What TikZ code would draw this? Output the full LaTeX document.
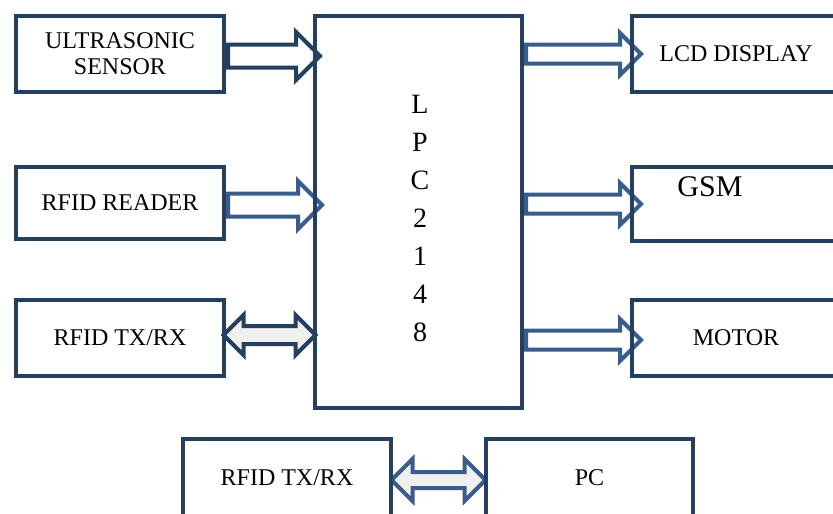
\documentclass[tikz,border=0pt]{standalone}
\usepackage{fontspec}
\setmainfont{Liberation Serif}
\usetikzlibrary{shapes.arrows,positioning,calc,backgrounds}
\definecolor{boxnavy}{HTML}{243F60}
\definecolor{arrblue}{HTML}{385D8A}
\definecolor{arrfill}{HTML}{F0F0F0}
\tikzset{
blkbox/.style={rectangle,draw=boxnavy,line width=4pt,align=center,inner sep=0pt,minimum width=208pt,minimum height=76pt,font=\fontsize{24}{26}\selectfont},
blkarr/.style={single arrow,draw=arrblue,line width=4pt,fill=white,inner sep=0pt,text height=15pt,text depth=0pt,single arrow head extend=11.5pt},
blkarrdark/.style={blkarr,draw=boxnavy},
dblarr/.style={double arrow,draw=arrblue,line width=4pt,fill=arrfill,inner sep=0pt,text height=13pt,text depth=0pt,double arrow head extend=12pt},
dblarrdark/.style={dblarr,draw=boxnavy}
}
\begin{document}
\begin{tikzpicture}[x=1pt,y=-1pt]
\useasboundingbox (0,0) rectangle (833,514);
\clip (0,0) rectangle (833,514);
% input side
\node[blkbox] (sensor) at (120,54) {ULTRASONIC\\SENSOR};
\node[blkbox,minimum height=72pt] (reader) at (120,203) {RFID READER};
\node[blkbox] (txrx) at (120,338) {RFID TX/RX};
% controller
\node[blkbox,minimum width=207pt,minimum height=392pt,font=\fontsize{28}{38}\selectfont]
  (lpc) at (418.5,212) {};
\node[font=\fontsize{28}{38}\selectfont,align=center] (lpctext) at (420,218) {L\\P\\C\\2\\1\\4\\8};
% output side
\node[blkbox] (lcd) at (736,54) {LCD DISPLAY};
\node[blkbox,minimum height=74pt] (gsm) at (736,204) {};
\node[font=\fontsize{30}{32}\selectfont] (gsmtext) at (710,187) {GSM};
\node[blkbox] (motor) at (736,338) {MOTOR};
% pc link
\node[blkbox,minimum height=78pt] (pctxrx) at (287,478) {RFID TX/RX};
\node[blkbox,minimum width=207pt,minimum height=78pt] (pc) at (589.5,478) {PC};
% block arrows, under the box borders
\begin{pgfonlayer}{background}
\node[blkarrdark,text height=19pt,single arrow head extend=12.5pt,minimum height=92pt,anchor=tail]
  (sensorarr) at ([yshift=-2pt]sensor.east) {};
\node[blkarr,text height=19pt,single arrow head extend=12.5pt,minimum height=94pt,anchor=tail]
  (readerarr) at ([yshift=-2pt]reader.east) {};
\node[dblarrdark,text height=14pt,double arrow head extend=11pt,minimum height=92pt]
  (txrxarr) at ($([yshift=3pt]txrx.east)!0.5!([yshift=3pt]lpc.west |- txrx.east)$) {};
\node[blkarr,minimum height=115pt,anchor=tail] (lcdarr) at (lpc.east |- lcd.west) {};
\node[blkarr,minimum height=115pt,anchor=tail] (gsmarr) at (lpc.east |- gsm.west) {};
\node[blkarr,minimum height=115pt,anchor=tail] (motorarr) at ([yshift=-2pt]lpc.east |- motor.west) {};
\node[dblarr,text height=12pt,double arrow head extend=13pt,minimum height=94pt]
  (pcarr) at ($([yshift=-2pt]pctxrx.east)!0.5!([yshift=-2pt]pc.west)$) {};
\end{pgfonlayer}
\end{tikzpicture}
\end{document}
